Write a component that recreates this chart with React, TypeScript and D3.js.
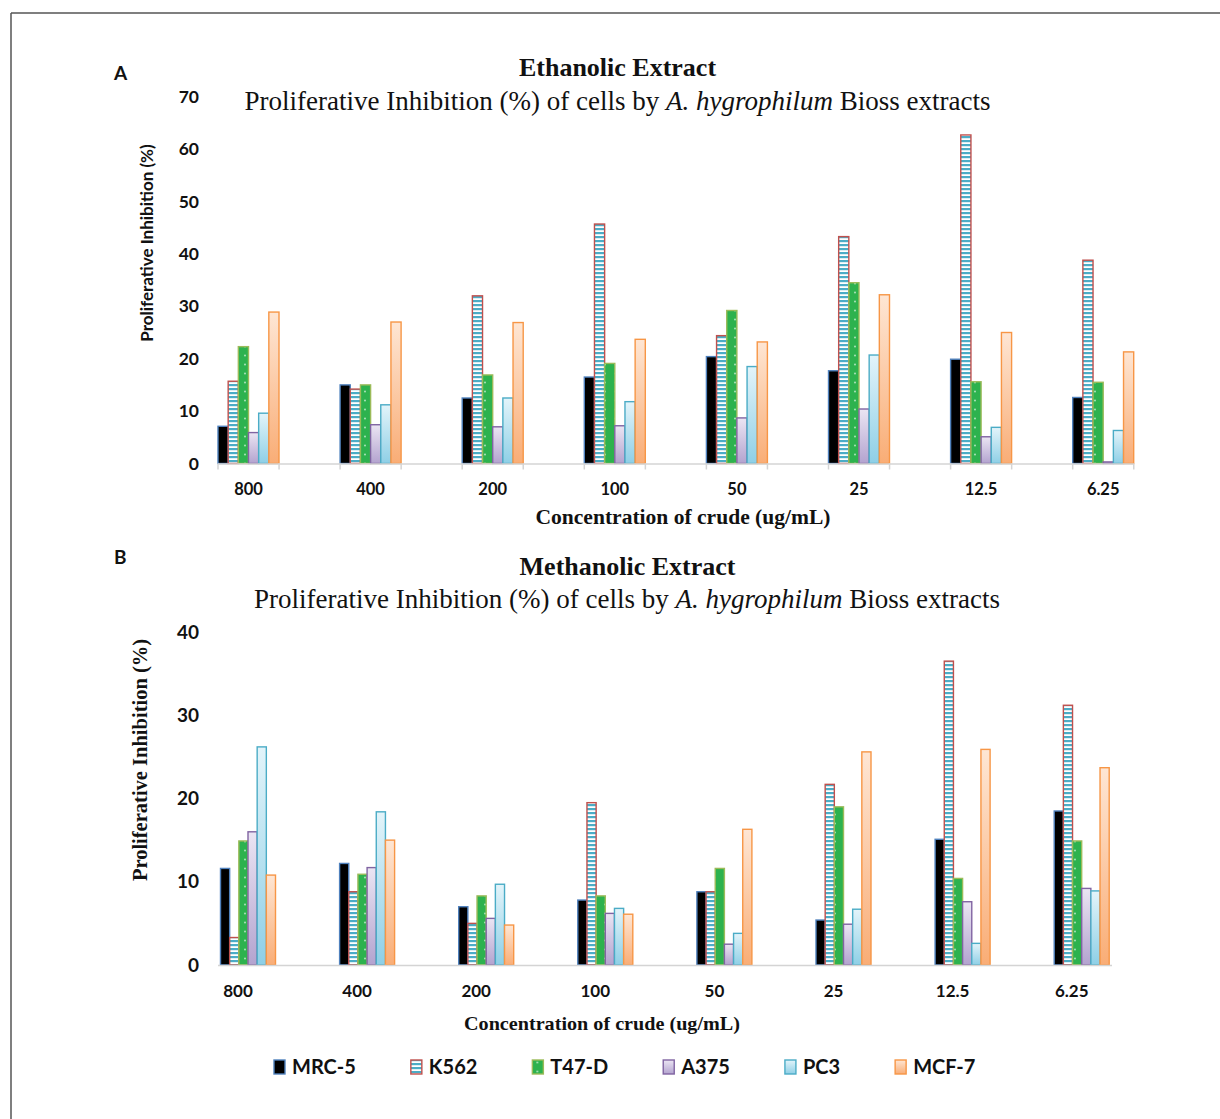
import React, { useMemo } from 'react';
import * as d3 from 'd3';

const categories = ['800', '400', '200', '100', '50', '25', '12.5', '6.25'];
const seriesNames = ['MRC-5', 'K562', 'T47-D', 'A375', 'PC3', 'MCF-7'];

// Ethanolic extract (%)
const ethMRC5 = [7.1, 15.0, 12.5, 16.5, 20.4, 17.7, 19.9, 12.6];
const ethK562 = [15.7, 14.2, 32.0, 45.7, 24.4, 43.3, 62.7, 38.8];
const ethT47D = [22.3, 15.0, 16.9, 19.1, 29.2, 34.5, 15.6, 15.5];
const ethA375 = [5.9, 7.4, 7.0, 7.2, 8.7, 10.4, 5.1, 0.3];
const ethPC3 = [9.6, 11.2, 12.5, 11.8, 18.5, 20.7, 6.9, 6.3];
const ethMCF7 = [28.9, 27.0, 26.9, 23.7, 23.2, 32.2, 25.0, 21.3];

// Methanolic extract (%)
const metMRC5 = [11.6, 12.2, 7.0, 7.8, 8.8, 5.4, 15.1, 18.5];
const metK562 = [3.3, 8.8, 5.0, 19.5, 8.8, 21.7, 36.5, 31.2];
const metT47D = [14.9, 10.9, 8.3, 8.3, 11.6, 19.0, 10.4, 14.9];
const metA375 = [16.0, 11.7, 5.6, 6.2, 2.5, 4.9, 7.6, 9.2];
const metPC3 = [26.2, 18.4, 9.7, 6.8, 3.8, 6.7, 2.6, 8.9];
const metMCF7 = [10.8, 15.0, 4.8, 6.1, 16.3, 25.6, 25.9, 23.7];

const ethTicks = [0, 10, 20, 30, 40, 50, 60, 70];
const metTicks = [0, 10, 20, 30, 40];

const ethSeries = [ethMRC5, ethK562, ethT47D, ethA375, ethPC3, ethMCF7];
const metSeries = [metMRC5, metK562, metT47D, metA375, metPC3, metMCF7];

// fill / outline per series
const fills = ['#000000', 'url(#stripes)', 'url(#dots)', 'url(#gPurple)', 'url(#gCyan)', 'url(#gOrange)'];
const strokes = ['#4f81bd', '#c0504d', '#9bbb59', '#8064a2', '#4bacc6', '#f79646'];

const sans = 'Lato, "Open Sans", sans-serif';
const serif = '"Liberation Serif", "DejaVu Serif", serif';

type PanelProps = {
  series: number[][];
  ticks: number[];
  yMax: number;
  yTop: number;
  yBottom: number;
  xStart: number;
  step: number;
  groupWidth: number;
  axisEnd: number;
  showTicks: boolean;
  labelShift: number;
  xLabelY: number;
  xLabelSize: number;
  yLabelSize: number;
};

const Panel = (p: PanelProps) => {
  const y = d3.scaleLinear().domain([0, p.yMax]).range([p.yBottom, p.yTop]);
  const x = d3.scaleBand().domain(categories).range([p.xStart, p.xStart + categories.length * p.step]).padding(0);
  const inner = d3.scaleBand().domain(seriesNames).range([0, p.groupWidth]).padding(0);
  const half = p.step / 2;
  const tickXs = d3.range(0, Math.round((p.axisEnd - 218) / half) + 1).map(k => 218 + k * half);

  return (
    <g>
      {p.series.map((vals, si) => (
        <g key={si}>
          {vals.map((v, ci) => (
            <rect
              key={ci}
              x={(x(categories[ci]) as number) + (inner(seriesNames[si]) as number)}
              y={y(v)}
              width={inner.bandwidth()}
              height={Math.max(0, p.yBottom - y(v))}
              fill={fills[si]}
              stroke={strokes[si]}
              strokeWidth={1.4}
            />
          ))}
        </g>
      ))}
      <line x1={218} x2={p.axisEnd} y1={p.yBottom + 0.5} y2={p.yBottom + 0.5} stroke="#d4d4d4" strokeWidth={1.5} />
      {p.showTicks && tickXs.map((tx, i) => (
        <line key={i} x1={tx} x2={tx} y1={p.yBottom} y2={p.yBottom + 6} stroke="#d4d4d4" strokeWidth={1.5} />
      ))}
      {p.ticks.map(t => (
        <text key={t} x={199} y={y(t)} dy="0.35em" textAnchor="end" fontFamily={sans} fontWeight={700} fontSize={p.yLabelSize} fill="#111">
          {t}
        </text>
      ))}
      {categories.map(c => (
        <text key={c} x={(x(c) as number) + p.groupWidth / 2 + p.labelShift} y={p.xLabelY} dy="0.35em" textAnchor="middle" fontFamily={sans} fontWeight={700} fontSize={p.xLabelSize} fill="#111">
          {c}
        </text>
      ))}
    </g>
  );
};

const Subtitle = ({ cx, cy }: { cx: number; cy: number }) => (
  <text x={cx} y={cy} dy="0.35em" textAnchor="middle" fontFamily={serif} fontSize={27} fill="#111">
    Proliferative Inhibition (%) of cells by <tspan fontStyle="italic">A. hygrophilum</tspan> Bioss extracts
  </text>
);

const Legend = () => {
  const widths = useMemo(() => {
    const ctx = document.createElement('canvas').getContext('2d');
    if (!ctx) return seriesNames.map(() => 50);
    ctx.font = `700 20px ${sans}`;
    return seriesNames.map(n => ctx.measureText(n).width);
  }, []);
  let cursor = 274;
  const items = seriesNames.map((n, i) => {
    const item = { n, i, x: cursor };
    cursor += 18 + widths[i] + 55;
    return item;
  });
  return (
    <g>
      {items.map(it => (
        <g key={it.n} transform={`translate(${it.x},1067)`}>
          <rect x={0} y={-7} width={11} height={14} fill={fills[it.i]} stroke={strokes[it.i]} strokeWidth={1.4} />
          <text x={18} y={0} dy="0.36em" fontFamily={sans} fontWeight={700} fontSize={20} fill="#111">{it.n}</text>
        </g>
      ))}
    </g>
  );
};

export default function App() {
  return (
    <svg width={1220} height={1119} style={{ position: 'absolute', left: 0, top: 0, background: '#fff' }}>
      <defs>
        <pattern id="stripes" patternUnits="userSpaceOnUse" width={8} height={4}>
          <rect width={8} height={4} fill="#ffffff" />
          <rect width={8} height={2.2} fill="#4bacc6" />
        </pattern>
        <pattern id="dots" patternUnits="userSpaceOnUse" width={10} height={9}>
          <rect width={10} height={9} fill="#2db24e" />
          <circle cx={5} cy={4.5} r={0.9} fill="#b9e8c4" />
        </pattern>
        <linearGradient id="gPurple" x1="0" y1="0" x2="0" y2="1">
          <stop offset="0%" stopColor="#ebe5f3" />
          <stop offset="100%" stopColor="#b3a3cf" />
        </linearGradient>
        <linearGradient id="gCyan" x1="0" y1="0" x2="0" y2="1">
          <stop offset="0%" stopColor="#e3f4fa" />
          <stop offset="100%" stopColor="#8ecfe6" />
        </linearGradient>
        <linearGradient id="gOrange" x1="0" y1="0" x2="0" y2="1">
          <stop offset="0%" stopColor="#fee6d4" />
          <stop offset="100%" stopColor="#f9ad76" />
        </linearGradient>
      </defs>

      <rect x={0} y={0} width={1220} height={1119} fill="#fff" />
      <line x1={11} x2={1220} y1={13} y2={13} stroke="#555" strokeWidth={1.5} />
      <line x1={11} x2={11} y1={13} y2={1119} stroke="#555" strokeWidth={1.5} />

      {/* Panel A */}
      <text x={114} y={73} dy="0.35em" fontFamily={sans} fontWeight={700} fontSize={19} fill="#111">A</text>
      <text x={617.5} y={67} dy="0.35em" textAnchor="middle" fontFamily={serif} fontWeight={700} fontSize={26} fill="#111">Ethanolic Extract</text>
      <Subtitle cx={617.5} cy={101} />
      <text transform="translate(147,243) rotate(-90)" textAnchor="middle" dy="0.35em" fontFamily={sans} fontWeight={700} fontSize={17} fill="#111">
        Proliferative Inhibition (%)
      </text>
      <Panel
        series={ethSeries}
        ticks={ethTicks}
        yMax={70}
        yTop={96.7}
        yBottom={463.5}
        xStart={218}
        step={122.1}
        groupWidth={61}
        axisEnd={1133.7}
        showTicks={true}
        labelShift={0}
        xLabelY={489}
        xLabelSize={16.5}
        yLabelSize={17.5}
      />
      <text x={683} y={517} dy="0.35em" textAnchor="middle" fontFamily={serif} fontWeight={700} fontSize={20} textLength={295} lengthAdjust="spacingAndGlyphs" fill="#111">
        Concentration of crude (ug/mL)
      </text>

      {/* Panel B */}
      <text x={114} y={557} dy="0.35em" fontFamily={sans} fontWeight={700} fontSize={19} fill="#111">B</text>
      <text x={627.5} y={566} dy="0.35em" textAnchor="middle" fontFamily={serif} fontWeight={700} fontSize={26} fill="#111">Methanolic Extract</text>
      <Subtitle cx={627} cy={599} />
      <text transform="translate(140,760) rotate(-90)" textAnchor="middle" dy="0.35em" fontFamily={serif} fontWeight={700} fontSize={20.5} fill="#111">
        Proliferative Inhibition (%)
      </text>
      <Panel
        series={metSeries}
        ticks={metTicks}
        yMax={40}
        yTop={632}
        yBottom={965}
        xStart={220.5}
        step={119.1}
        groupWidth={55}
        axisEnd={1112}
        showTicks={false}
        labelShift={-10}
        xLabelY={991}
        xLabelSize={17}
        yLabelSize={19}
      />
      <text x={602} y={1023} dy="0.35em" textAnchor="middle" fontFamily={serif} fontWeight={700} fontSize={19} textLength={276} lengthAdjust="spacingAndGlyphs" fill="#111">
        Concentration of crude (ug/mL)
      </text>

      <Legend />
    </svg>
  );
}
